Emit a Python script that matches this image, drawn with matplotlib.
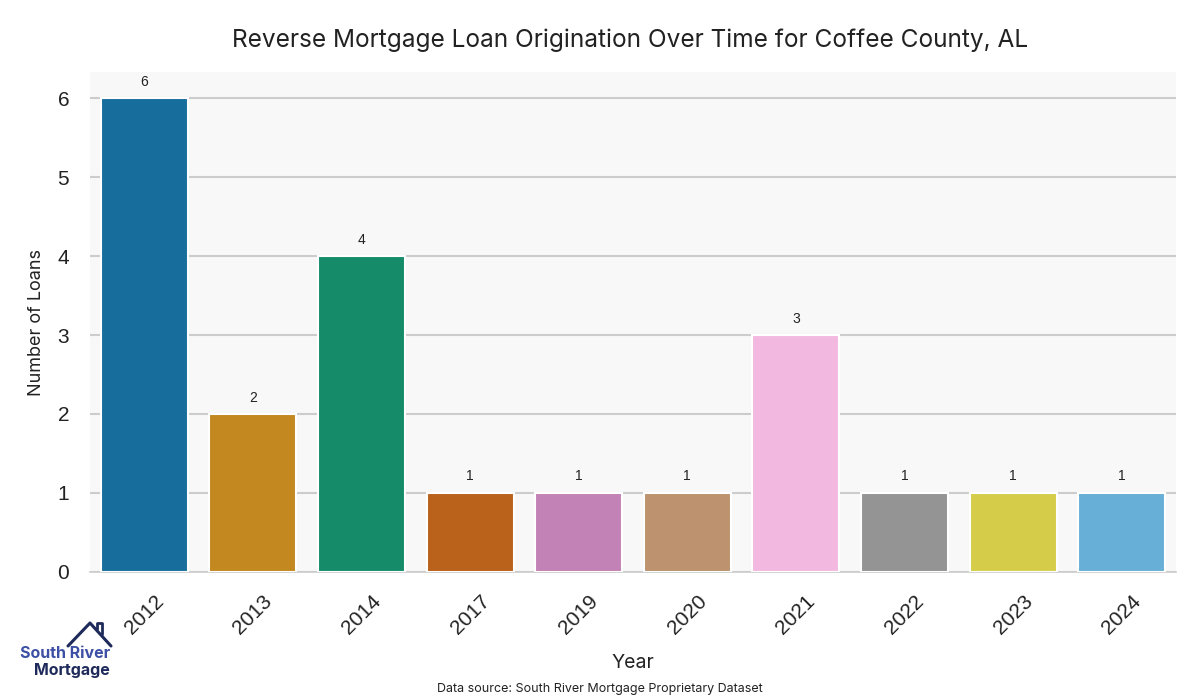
import matplotlib
matplotlib.use("Agg")
import matplotlib.pyplot as plt
import seaborn as sns
from matplotlib.lines import Line2D

years = ["2012", "2013", "2014", "2017", "2019", "2020", "2021", "2022", "2023", "2024"]
loans = [6, 2, 4, 1, 1, 1, 3, 1, 1, 1]

title = "Reverse Mortgage Loan Origination Over Time for Coffee County, AL"
source = "Data source: South River Mortgage Proprietary Dataset"

sns.set_style("whitegrid")
palette = sns.color_palette("colorblind", len(years))
# seaborn's default bar saturation
palette = [sns.desaturate(c, 0.75) for c in palette]

fig = plt.figure(figsize=(12, 7), dpi=100)
ax = fig.add_axes([0.075, 0.183, 0.905, 0.714])
ax.set_facecolor("#f8f8f8")

x = list(range(len(years)))
bars = ax.bar(x, loans, width=0.8, color=palette, edgecolor="white", linewidth=1.5, zorder=3)
for b, v in zip(bars, loans):
    ax.text(b.get_x() + b.get_width() / 2, v + 0.12, str(v), ha="center", va="bottom",
            fontsize=10, color="#222222", family="Liberation Sans")

ax.set_xlim(-0.5, len(years) - 0.5)
ax.set_ylim(0, 6.33)
ax.set_xticks(x)
ax.set_xticklabels(years, rotation=45, fontsize=15, family="Liberation Sans", color="#222222")
ax.set_yticks(range(7))
ax.set_yticklabels([str(i) for i in range(7)], fontsize=15, family="Liberation Sans", color="#222222")
ax.tick_params(axis="x", length=0, pad=14)
ax.tick_params(axis="y", length=0, pad=15)
ax.grid(axis="y", color="#cccccc", linewidth=1.5, zorder=0)
ax.grid(axis="x", visible=False)
for s in ["top", "right", "left"]:
    ax.spines[s].set_visible(False)
ax.spines["bottom"].set_color("#cccccc")
ax.spines["bottom"].set_linewidth(1.2)

ax.set_xlabel("Year", fontsize=14, family="Inter", color="#222222", labelpad=12)
ax.set_ylabel("Number of Loans", fontsize=13, family="Inter", color="#222222", labelpad=9)
fig.text(0.525, 0.943, title, ha="center", va="center", fontsize=17.6, family="Inter", color="#222222")
fig.text(0.5, 0.016, source, ha="center", va="center", fontsize=9, family="Inter", color="#222222")

# logo
W, H = 1200, 700
roof = Line2D([68 / W, 90 / W, 111 / W], [1 - 646 / H, 1 - 623 / H, 1 - 646 / H],
              transform=fig.transFigure, color="#1e2a5a", linewidth=2.2)
chimney = Line2D([97 / W, 97 / W, 102 / W, 102 / W], [1 - 629 / H, 1 - 623 / H, 1 - 623 / H, 1 - 634 / H],
                 transform=fig.transFigure, color="#1e2a5a", linewidth=2)
fig.add_artist(roof)
fig.add_artist(chimney)
fig.text(110 / W, 1 - 653 / H, "South River", ha="right", va="center", fontsize=11.5,
         family="Inter", fontweight="bold", color="#3d50a5")
fig.text(110 / W, 1 - 670 / H, "Mortgage", ha="right", va="center", fontsize=11.5,
         family="Inter", fontweight="bold", color="#1e2a5a")

fig.savefig("out.png", dpi=100, facecolor="white")
